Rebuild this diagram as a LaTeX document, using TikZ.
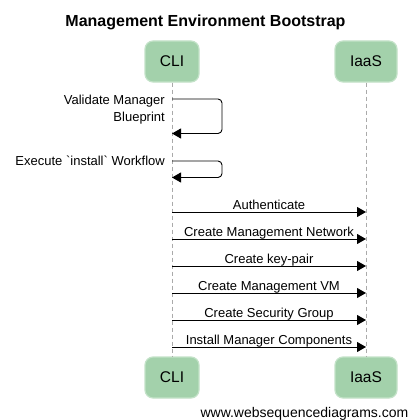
\documentclass[tikz,border=0pt]{standalone}
\usepackage{fontspec}
\setmainfont{Liberation Sans}[Ligatures=TeXOff]
\usetikzlibrary{arrows.meta}
\definecolor{boxfill}{HTML}{A3D1AB}
\definecolor{boxedge}{HTML}{C3E2C8}
\definecolor{lifegray}{HTML}{AAAAAA}
\begin{document}
\begin{tikzpicture}[x=1pt,y=-1pt,
  actor/.style={draw=boxedge, line width=1.2pt, fill=boxfill, rounded corners=8pt,
    minimum height=41pt, inner sep=0pt, font=\fontsize{15.5}{18}\selectfont},
  lifeline/.style={draw=lifegray, line width=0.8pt, dash pattern=on 4pt off 3pt},
  msg/.style={draw=black, line width=0.9pt, -{Triangle[length=9pt,width=10pt]}},
  lbl/.style={font=\fontsize{13}{17.5}\selectfont, inner sep=0pt, anchor=base},
  selflbl/.style={font=\fontsize{13}{17}\selectfont, inner sep=0pt, align=right}
]
\useasboundingbox (0,0) rectangle (409,420);
% title
\node[font=\fontsize{16}{19}\selectfont\bfseries, inner sep=0pt, anchor=base] (title) at (205.5,26.7) {Management Environment Bootstrap};
% actors
\node[actor, minimum width=54pt] (cli) at (172,61.5) {CLI};
\node[actor, minimum width=62pt] (iaas) at (366,61.5) {IaaS};
\node[actor, minimum width=54pt] (cliB) at (172,377.5) {CLI};
\node[actor, minimum width=62pt] (iaasB) at (366,377.5) {IaaS};
% lifelines
\draw[lifeline] (cli.south) -- (cliB.north);
\draw[lifeline] (iaas.south) -- (iaasB.north);
% self messages
\coordinate (s1a) at (172,99);
\coordinate (s1b) at (222,99);
\coordinate (s1c) at (222,133.5);
\coordinate (s1d) at (172,133.5);
\draw[msg, rounded corners=4pt] (s1a) -- (s1b) -- (s1c) -- (s1d);
\node[selflbl, anchor=north east] (v1) at (165,95) {Validate Manager\\Blueprint};
\coordinate (s2a) at (172,161);
\coordinate (s2b) at (222,161);
\coordinate (s2c) at (222,177.5);
\coordinate (s2d) at (172,177.5);
\draw[msg, rounded corners=4pt] (s2a) -- (s2b) -- (s2c) -- (s2d);
\node[selflbl, anchor=base east] (v2) at (165,165) {Execute `install` Workflow};
% messages
\coordinate (c1) at (172,212);   \coordinate (i1) at (366,212);
\coordinate (c2) at (172,239);   \coordinate (i2) at (366,239);
\coordinate (c3) at (172,266);   \coordinate (i3) at (366,266);
\coordinate (c4) at (172,293);   \coordinate (i4) at (366,293);
\coordinate (c5) at (172,320);   \coordinate (i5) at (366,320);
\coordinate (c6) at (172,347);   \coordinate (i6) at (366,347);
\draw[msg] (c1) -- node[lbl, yshift=3pt] {Authenticate} (i1);
\draw[msg] (c2) -- node[lbl, yshift=3pt] {Create Management Network} (i2);
\draw[msg] (c3) -- node[lbl, yshift=3pt] {Create key-pair} (i3);
\draw[msg] (c4) -- node[lbl, yshift=3pt] {Create Management VM} (i4);
\draw[msg] (c5) -- node[lbl, yshift=3pt] {Create Security Group} (i5);
\draw[msg] (c6) -- node[lbl, yshift=3pt] {Install Manager Components} (i6);
% footer
\node[font=\fontsize{14}{16}\selectfont, inner sep=0pt, anchor=base east] (footer) at (408.5,417.5) {www.websequencediagrams.com};
\end{tikzpicture}
\end{document}
